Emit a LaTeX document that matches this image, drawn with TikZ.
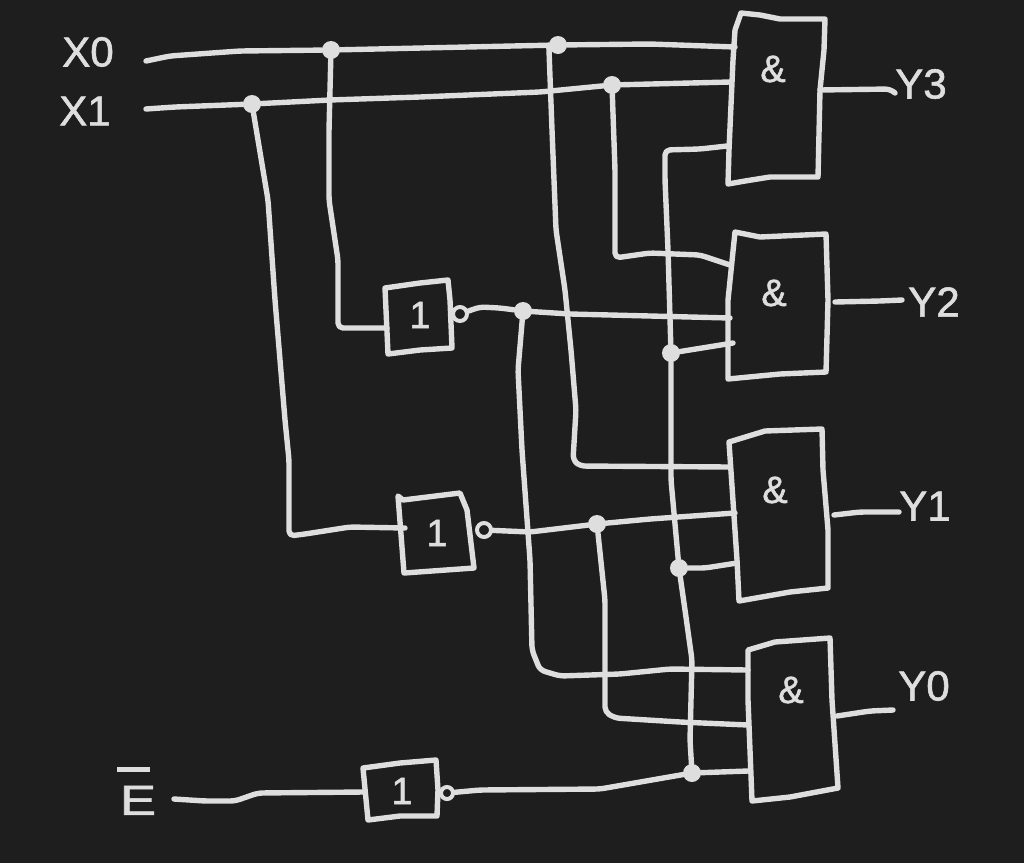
\documentclass[tikz,border=0pt]{standalone}
\usepackage{fontspec}
\newfontfamily\chalkfont[FakeBold=1.4]{Liberation Sans}
\definecolor{boardbg}{HTML}{1E1E1E}
\definecolor{chalk}{HTML}{DEDEDE}
\usetikzlibrary{positioning}

\begin{document}
\begin{tikzpicture}[
  x=1pt, y=-1pt,
  wire/.style={draw=chalk, line width=5.4pt, line cap=round, line join=round, rounded corners=5pt},
  gatebody/.style={draw=chalk, line width=5.4pt, line cap=round, line join=round},
  sign/.style={text=chalk, inner sep=0pt, font=\chalkfont\fontsize{42}{42}\selectfont},
  gatesign/.style={text=chalk, inner sep=0pt, font=\chalkfont\fontsize{38}{38}\selectfont},
  junction/.style={circle, fill=chalk, inner sep=0pt, minimum size=18pt},
  bubble/.style={circle, draw=chalk, line width=4pt, inner sep=0pt, minimum size=14pt}
]
\fill[boardbg, use as bounding box] (0,0) rectangle (1024,863);

% Gate outlines
\draw[gatebody] (741,13) -- (760,15) -- (780,19) -- (825,19) -- (824,50) -- (820,90) -- (818,177) -- (770,177) -- (745,181) -- (728,184) -- (729,150) -- (733,60) -- (735,30) -- cycle;
\draw[gatebody] (735,232) -- (760,237) -- (826,234) -- (828,300) -- (826,372) -- (780,374) -- (728,379) -- (728,300) -- cycle;
\draw[gatebody] (729,442) -- (765,431) -- (822,429) -- (823,470) -- (828,530) -- (828,588) -- (790,592) -- (739,601) -- (737,560) -- cycle;
\draw[gatebody] (748,650) -- (775,642) -- (830,638) -- (832,700) -- (838,788) -- (790,797) -- (752,801) -- (748,700) -- cycle;
\draw[gatebody] (385,288) -- (420,283) -- (448,280) -- (450,300) -- (452,348) -- (420,350) -- (388,354) -- cycle;
\draw[gatebody] (398,496) -- (403,500) -- (460,493) -- (467,510) -- (474,568) -- (404,573) -- cycle;
\draw[gatebody] (363,768) -- (400,763) -- (436,760) -- (438,790) -- (437,816) -- (400,816) -- (368,820) -- cycle;

% Gate signs
\node[gatesign] (and3) at (773,69) {\&};
\node[gatesign] (and2) at (774,293) {\&};
\node[gatesign] (and1) at (775,490) {\&};
\node[gatesign] (and0) at (791,690) {\&};
\node[gatesign] (not0) at (420,315) {1};
\node[gatesign] (not1) at (437,533) {1};
\node[gatesign] (note) at (402,791) {1};

% Inverter outputs
\node[bubble] (bub0) at (460,314) {};
\node[bubble] (bub1) at (484,530) {};
\node[bubble, minimum size=12pt] (bube) at (447,793) {};

% Labels
\node[sign] (x0) at (88,52) {X0};
\node[sign] (x1) at (85,111) {X1};
\node[sign] (e) at (138,791) {\rlap{\hspace{-3pt}\raisebox{43pt}{\rule{33pt}{4.5pt}}}\scalebox{1.3}[1]{E}};
\node[sign] (y3) at (921,84) {Y3};
\node[sign] (y2) at (934,302) {Y2};
\node[sign] (y1) at (925,506) {Y1};
\node[sign] (y0) at (924,686) {Y0};

% Junctions
\node[junction] (jx0a) at (331,50) {};
\node[junction] (jx0b) at (558,45) {};
\node[junction] (jx1a) at (252,104) {};
\node[junction] (jx1b) at (612,85) {};
\node[junction] (jn0) at (523,311) {};
\node[junction] (jn1) at (597,524) {};
\node[junction] (jen) at (692,773) {};
\node[junction] (jen2) at (671,353) {};
\node[junction] (jen1) at (679,568) {};

% Free wire ends
\coordinate (inx0) at (146,61);
\coordinate (inx1) at (146,109);
\coordinate (ine) at (174,799);
\coordinate (a3x0) at (735,47);
\coordinate (a3x1) at (730,82);
\coordinate (a3en) at (727,146);
\coordinate (a2x1) at (730,265);
\coordinate (a2n0) at (730,318);
\coordinate (a2en) at (733,343);
\coordinate (a1x0) at (730,467);
\coordinate (a1n1) at (735,513);
\coordinate (a1en) at (737,563);
\coordinate (a0n0) at (748,670);
\coordinate (a0n1) at (748,725);
\coordinate (a0en) at (748,771);
\coordinate (n0in) at (387,328);
\coordinate (n1in) at (405,528);
\coordinate (nein) at (363,792);
\coordinate (o3a) at (820,90);
\coordinate (o3b) at (895,93);
\coordinate (o2a) at (835,302);
\coordinate (o2b) at (902,300);
\coordinate (o1a) at (834,515);
\coordinate (o1b) at (899,512);
\coordinate (o0a) at (837,716);
\coordinate (o0b) at (893,710);

% Inputs
\draw[wire] (inx0) -- (170,56) -- (240,51) -- (jx0a) -- (jx0b) -- (650,44) -- (a3x0);
\draw[wire] (inx1) -- (175,107) -- (jx1a) -- (330,100) -- (420,97) -- (540,92) -- (jx1b) -- (a3x1);
\draw[wire] (ine) -- (205,801) -- (235,801) -- (258,793) -- (nein);

% Branches of X0 and X1
\draw[wire] (jx0a) -- (329,130) -- (329,200) -- (338,260) -- (338,328) -- (n0in);
\draw[wire] (jx1a) -- (258,140) -- (268,200) -- (275,300) -- (285,420) -- (289,460) -- (289,536) -- (305,534) -- (350,527) -- (n1in);
\draw[wire] (jx0b.west) -- (552,130) -- (556,230) -- (565,290) -- (571,350) -- (576,410) -- (573,460) -- (580,466) -- (a1x0);
\draw[wire] (jx1b) -- (615,170) -- (615,258) -- (650,253) -- (700,255) -- (a2x1);

% Inverted signals
\draw[wire] (bub0) -- (480,307) -- (500,308) -- (jn0) -- (570,314) -- (a2n0);
\draw[wire] (bub1) -- (530,532) -- (jn1) -- (650,519) -- (a1n1);
\draw[wire] (bube) -- (480,790) -- (600,789) -- (jen) -- (a0en);
\draw[wire] (jn0) -- (518,370) -- (522,450) -- (530,560) -- (532,650) -- (540,670) -- (560,676) -- (620,674) -- (670,669) -- (a0n0);
\draw[wire] (jn1) -- (605,600) -- (605,712) -- (615,718) -- (680,722) -- (a0n1);

% Enable line
\draw[wire] (jen) -- (690,740) -- (692,660) -- (685,610) -- (jen1) -- (671,480) -- (jen2) -- (668,250) -- (665,180) -- (665,150) -- (700,149) -- (a3en);
\draw[wire] (jen2) -- (a2en);
\draw[wire] (jen1) -- (705,568) -- (a1en);

% Outputs
\draw[wire] (o3a) -- (890,89) -- (o3b);
\draw[wire] (o2a) -- (880,301) -- (o2b);
\draw[wire] (o1a) -- (860,512) -- (o1b);
\draw[wire] (o0a) -- (870,711) -- (o0b);

\end{tikzpicture}
\end{document}
